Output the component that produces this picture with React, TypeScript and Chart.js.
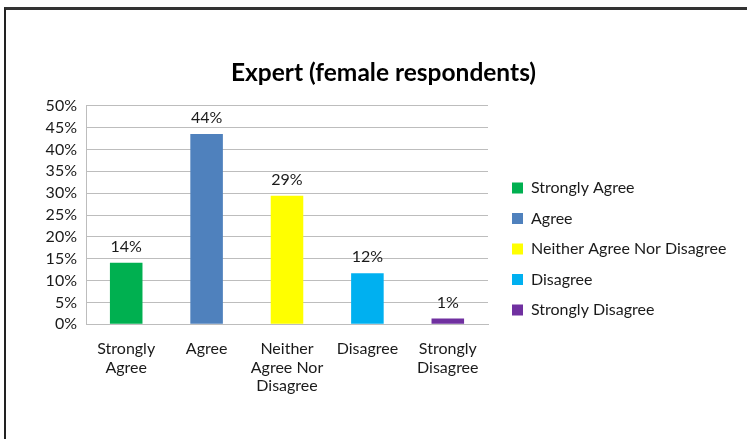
import React, { useEffect, useRef } from 'react';
import { Chart, registerables } from 'chart.js';

Chart.register(...registerables);

const categories: (string | string[])[] = [
  ['Strongly', 'Agree'],
  'Agree',
  ['Neither', 'Agree Nor', 'Disagree'],
  'Disagree',
  ['Strongly', 'Disagree'],
];
const legendLabels = ['Strongly Agree', 'Agree', 'Neither Agree Nor Disagree', 'Disagree', 'Strongly Disagree'];
const values = [14.1, 43.5, 29.4, 11.7, 1.3];
const barColors = ['#00B050', '#4F81BD', '#FFFF00', '#00B0F0', '#7030A0'];
const yMin = 0;
const yMax = 50;
const yStep = 5;
const titleText = 'Expert (female respondents)';

const W = 747;
const H = 439;
const PAD_LEFT = 20;
const LEGEND_W = 249.5;
const TEXT = '#1a1a1a';
const GRID = '#bdbdbd';
const FAMILY = 'Lato, "Open Sans", sans-serif';

export default function App() {
  const ref = useRef<HTMLCanvasElement | null>(null);

  useEffect(() => {
    if (!ref.current) return;
    const dataLabels = {
      id: 'dataLabels',
      afterDatasetsDraw(chart: any) {
        const ctx = chart.ctx;
        const meta = chart.getDatasetMeta(0);
        ctx.save();
        ctx.font = '16px ' + FAMILY;
        ctx.fillStyle = TEXT;
        ctx.textAlign = 'center';
        ctx.textBaseline = 'alphabetic';
        meta.data.forEach((bar: any, i: number) => {
          ctx.fillText(Math.round(values[i]) + '%', bar.x, bar.y - 11);
        });
        ctx.restore();
      },
    };
    const legendWidthFix = {
      id: 'legendWidthFix',
      afterInit(chart: any) {
        const lg = chart.legend;
        if (!lg) return;
        const orig = lg.update.bind(lg);
        lg.update = (mw: number, mh: number, margins: any) => {
          orig(1000, mh, margins);
          lg.width = LEGEND_W;
        };
      },
    };

    const chart = new Chart(ref.current, {
      type: 'bar',
      data: {
        labels: categories as any,
        datasets: [
          {
            data: values,
            backgroundColor: barColors,
            borderWidth: 0,
            barPercentage: 0.405,
            categoryPercentage: 1,
          },
        ],
      },
      options: {
        responsive: false,
        animation: false,
        devicePixelRatio: 1,
        layout: { padding: { left: PAD_LEFT, right: 0, top: 0, bottom: 0 } },
        font: { family: FAMILY },
        plugins: {
          tooltip: { enabled: false },
          title: {
            display: true,
            text: titleText,
            color: '#000',
            font: { size: 24.5, weight: 'bold', family: FAMILY },
            padding: { top: 58.5, bottom: 17.8 },
          },
          legend: {
            position: 'right',
            onClick: () => {},
            title: {
              display: true,
              text: ' ',
              font: { size: 10, lineHeight: 1 },
              padding: { top: 49, bottom: 0 },
            },
            labels: {
              boxWidth: 11,
              boxHeight: 11,
              padding: 14.5,
              color: TEXT,
              font: { size: 16, family: FAMILY },
              generateLabels: () =>
                legendLabels.map((t, i) => ({
                  text: t,
                  fillStyle: barColors[i],
                  strokeStyle: barColors[i],
                  fontColor: TEXT,
                  lineWidth: 0,
                  hidden: false,
                  index: i,
                  datasetIndex: 0,
                })),
            },
          },
        },
        scales: {
          x: {
            grid: { display: false, drawTicks: false },
            border: { color: GRID },
            ticks: {
              padding: 15.5,
              color: TEXT,
              maxRotation: 0,
              autoSkip: false,
              font: { size: 16, lineHeight: 1.15, family: FAMILY },
            },
            afterFit: (s: any) => {
              s.height = 114.7;
            },
          },
          y: {
            min: yMin,
            max: yMax,
            grid: { color: GRID, drawTicks: false },
            border: { color: GRID },
            ticks: {
              stepSize: yStep,
              autoSkip: false,
              padding: 9,
              color: TEXT,
              font: { size: 16, family: FAMILY },
              callback: (v: any) => v + '%',
            },
            afterFit: (s: any) => {
              s.width = 86 - PAD_LEFT;
            },
          },
          spacer: {
            position: 'right',
            display: true,
            grid: { display: false, drawTicks: false },
            border: { display: false },
            ticks: { display: false },
            afterFit: (s: any) => {
              s.width = 9.5;
            },
          },
        },
      } as any,
      plugins: [dataLabels, legendWidthFix],
    });
    return () => chart.destroy();
  }, []);

  return (
    <div style={{ position: 'fixed', left: 0, top: 0, width: W, height: H, background: '#fff', overflow: 'hidden' }}>
      <div
        style={{
          position: 'absolute',
          left: 4,
          top: 7,
          width: W,
          height: H,
          borderLeft: '2px solid #222',
          borderTop: '3px solid #333',
        }}
      />
      <canvas ref={ref} width={W} height={H} style={{ position: 'absolute', left: 0, top: 0 }} />
    </div>
  );
}
